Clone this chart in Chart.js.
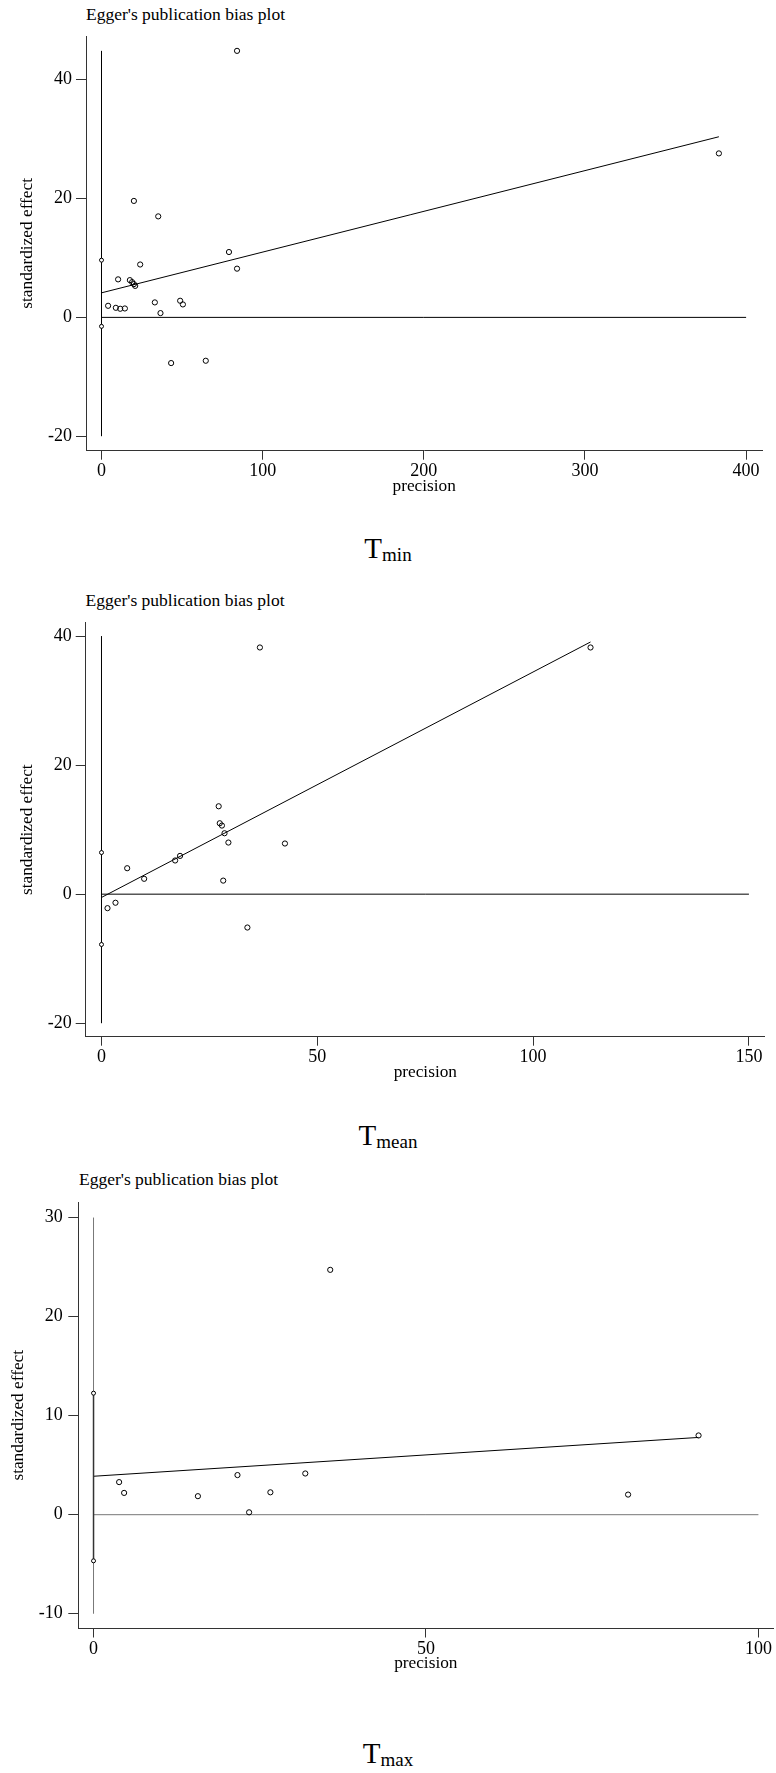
<!DOCTYPE html>
<html>
<head>
<meta charset="utf-8">
<title>Egger's publication bias plot</title>
<script src="https://cdn.jsdelivr.net/npm/chart.js@4.4.0/dist/chart.umd.min.js"></script>
<style>
  body { margin: 0; background: #fff; }
  #page { position: relative; width: 776px; height: 1773px; font-family: "Liberation Serif", "Times New Roman", serif; color: #000; overflow: hidden; }
  canvas { position: absolute; left: 0; }
  .head { position: absolute; font-size: 17.5px; line-height: 17.5px; white-space: nowrap; }
  .label { position: absolute; left: 0; width: 776px; text-align: center; font-size: 29px; line-height: 29px; }
  .label span { font-size: 19px; line-height: 19px; vertical-align: -3px; }
</style>
</head>
<body>
<div id="page">
  <div class="head" style="left:86px; top:6px;">Egger's publication bias plot</div>
  <canvas id="tminChart" width="776" height="520" style="top:0px;"></canvas>
  <div class="label" style="top:533.7px;">T<span>min</span></div>

  <div class="head" style="left:85.5px; top:592.3px;">Egger's publication bias plot</div>
  <canvas id="tmeanChart" width="776" height="580" style="top:520px;"></canvas>
  <div class="label" style="top:1120.7px;">T<span>mean</span></div>

  <div class="head" style="left:79px; top:1171.3px;">Egger's publication bias plot</div>
  <canvas id="tmaxChart" width="776" height="620" style="top:1100px;"></canvas>
  <div class="label" style="top:1738.7px;">T<span>max</span></div>
</div>

<script>
// T min
const tminPrecision = [84.1, 383.1, 20.1, 35.2, 79.1, 24.0, 84.1, 10.3, 17.6, 19.0, 20.1, 20.9, 33.1, 48.8, 50.5, 4.1, 8.9, 11.6, 14.5, 36.6, 43.2, 64.7];
const tminEffect = [44.86, 27.6, 19.6, 17.0, 11.0, 8.9, 8.2, 6.4, 6.27, 5.93, 5.6, 5.3, 2.52, 2.8, 2.18, 1.95, 1.61, 1.45, 1.5, 0.72, -7.69, -7.3];
const tminFitPrecision = [0, 383.1];
const tminFitEffect = [4.13, 30.4];
const tminInterval = [9.63, -1.51];
const tminSpan = [-20, 44.86];
const tminXTicks = [0, 100, 200, 300, 400];
const tminYTicks = [-20, 0, 20, 40];

// T mean
const tmeanPrecision = [36.7, 113.3, 27.15, 27.4, 27.9, 28.5, 29.4, 42.5, 18.2, 17.06, 5.95, 9.88, 28.2, 3.24, 1.39, 33.8];
const tmeanEffect = [38.23, 38.23, 13.62, 10.99, 10.63, 9.44, 8.0, 7.85, 5.93, 5.22, 4.02, 2.38, 2.1, -1.33, -2.17, -5.17];
const tmeanFitPrecision = [0, 113.3];
const tmeanFitEffect = [-0.51, 39.08];
const tmeanInterval = [6.45, -7.8];
const tmeanSpan = [-20, 40];
const tmeanXTicks = [0, 50, 100, 150];
const tmeanYTicks = [-20, 0, 20, 40];

// T max
const tmaxPrecision = [35.6, 91.0, 3.85, 4.6, 15.7, 21.65, 23.4, 26.6, 31.85, 80.4];
const tmaxEffect = [24.72, 8.0, 3.29, 2.2, 1.87, 4.0, 0.24, 2.26, 4.16, 2.03];
const tmaxFitPrecision = [0, 91.0];
const tmaxFitEffect = [3.88, 7.8];
const tmaxInterval = [12.27, -4.66];
const tmaxSpan = [-10, 30];
const tmaxXTicks = [0, 50, 100];
const tmaxYTicks = [-10, 0, 10, 20, 30];

const serif = '"Liberation Serif", "Times New Roman", serif';

function buildPanel(canvasId, d, box) {
    const ctx = document.getElementById(canvasId).getContext('2d');
    const h = ctx.canvas.height;
    const lastX = d.xTicks[d.xTicks.length - 1];

    const studies = d.precision.map((p, i) => ({ x: p, y: d.effect[i] }));
    const fit = d.fitPrecision.map((p, i) => ({ x: p, y: d.fitEffect[i] }));

    new Chart(ctx, {
        type: 'scatter',
        data: {
            datasets: [
                {
                    data: studies,
                    pointRadius: 2.6,
                    pointBorderWidth: 1,
                    borderColor: '#000',
                    backgroundColor: 'rgba(0,0,0,0)'
                },
                {
                    // interval for the intercept, drawn on x = 0
                    data: d.interval.map(v => ({ x: 0, y: v })),
                    showLine: box.intervalWidth > 0,
                    borderColor: box.intervalColor,
                    borderWidth: box.intervalWidth,
                    pointRadius: 2,
                    pointBorderWidth: 1,
                    pointBorderColor: '#000',
                    pointBackgroundColor: '#fff'
                },
                {
                    data: fit,
                    showLine: true,
                    borderColor: '#000',
                    borderWidth: 1,
                    pointRadius: 0
                },
                {
                    data: [{ x: 0, y: 0 }, { x: lastX, y: 0 }],
                    showLine: true,
                    borderColor: box.lineColor,
                    borderWidth: 1,
                    pointRadius: 0
                },
                {
                    data: d.span.map(v => ({ x: 0, y: v })),
                    showLine: true,
                    borderColor: box.lineColor,
                    borderWidth: 1,
                    pointRadius: 0
                }
            ]
        },
        options: {
            responsive: false,
            animation: false,
            devicePixelRatio: 1,
            events: [],
            layout: {
                autoPadding: false,
                padding: { left: 0, top: box.top, right: 776 - box.right, bottom: h - box.bottom - 50 }
            },
            plugins: {
                legend: { display: false },
                tooltip: { enabled: false }
            },
            scales: {
                x: {
                    type: 'linear',
                    min: box.xMin,
                    max: box.xMax,
                    afterBuildTicks: s => { s.ticks = d.xTicks.map(v => ({ value: v })); },
                    afterFit: s => { s.height = 50; },
                    border: { display: true, color: '#333', width: 1 },
                    grid: { drawOnChartArea: false, drawTicks: true, tickLength: 9, color: '#333' },
                    ticks: {
                        padding: 1,
                        color: '#000',
                        maxRotation: 0,
                        autoSkip: false,
                        font: { family: serif, size: 18 },
                        callback: v => String(v)
                    },
                    title: {
                        display: true,
                        text: 'precision',
                        color: '#000',
                        font: { family: serif, size: 17.3 },
                        padding: { top: 0, bottom: 4.3 }
                    }
                },
                y: {
                    type: 'linear',
                    min: box.yMin,
                    max: box.yMax,
                    afterBuildTicks: s => { s.ticks = d.yTicks.map(v => ({ value: v })); },
                    afterFit: s => { s.width = box.left; },
                    border: { display: true, color: '#333', width: 1 },
                    grid: { drawOnChartArea: false, drawTicks: true, tickLength: 10, color: '#333' },
                    ticks: {
                        padding: box.yTickPad,
                        color: '#000',
                        autoSkip: false,
                        font: { family: serif, size: 18 },
                        callback: v => String(v)
                    },
                    title: {
                        display: true,
                        text: 'standardized effect',
                        color: '#000',
                        font: { family: serif, size: 17.3 },
                        padding: { top: box.yTitlePad, bottom: 0 }
                    }
                }
            }
        }
    });
}

buildPanel('tminChart', {
    precision: tminPrecision, effect: tminEffect,
    fitPrecision: tminFitPrecision, fitEffect: tminFitEffect,
    interval: tminInterval, span: tminSpan,
    xTicks: tminXTicks, yTicks: tminYTicks
}, {
    left: 86, right: 762.4, top: 36, bottom: 450.7,
    xMin: -9.62, xMax: 410.1, yMin: -22.44, yMax: 47.36,
    yTickPad: 4, yTitlePad: 17.3,
    lineColor: '#000', intervalColor: '#000', intervalWidth: 0
});

buildPanel('tmeanChart', {
    precision: tmeanPrecision, effect: tmeanEffect,
    fitPrecision: tmeanFitPrecision, fitEffect: tmeanFitEffect,
    interval: tmeanInterval, span: tmeanSpan,
    xTicks: tmeanXTicks, yTicks: tmeanYTicks
}, {
    left: 85.7, right: 764.9, top: 102.7, bottom: 516.7,
    xMin: -3.66, xMax: 153.7, yMin: -22.09, yMax: 42.07,
    yTickPad: 4, yTitlePad: 17.3,
    lineColor: '#000', intervalColor: '#000', intervalWidth: 0
});

buildPanel('tmaxChart', {
    precision: tmaxPrecision, effect: tmaxEffect,
    fitPrecision: tmaxFitPrecision, fitEffect: tmaxFitEffect,
    interval: tmaxInterval, span: tmaxSpan,
    xTicks: tmaxXTicks, yTicks: tmaxYTicks
}, {
    left: 78.3, right: 773.3, top: 102, bottom: 528.5,
    xMin: -2.29, xMax: 102.24, yMin: -11.49, yMax: 31.57,
    yTickPad: 5.5, yTitlePad: 7.6,
    lineColor: '#777', intervalColor: '#333', intervalWidth: 1.5
});
</script>
</body>
</html>
